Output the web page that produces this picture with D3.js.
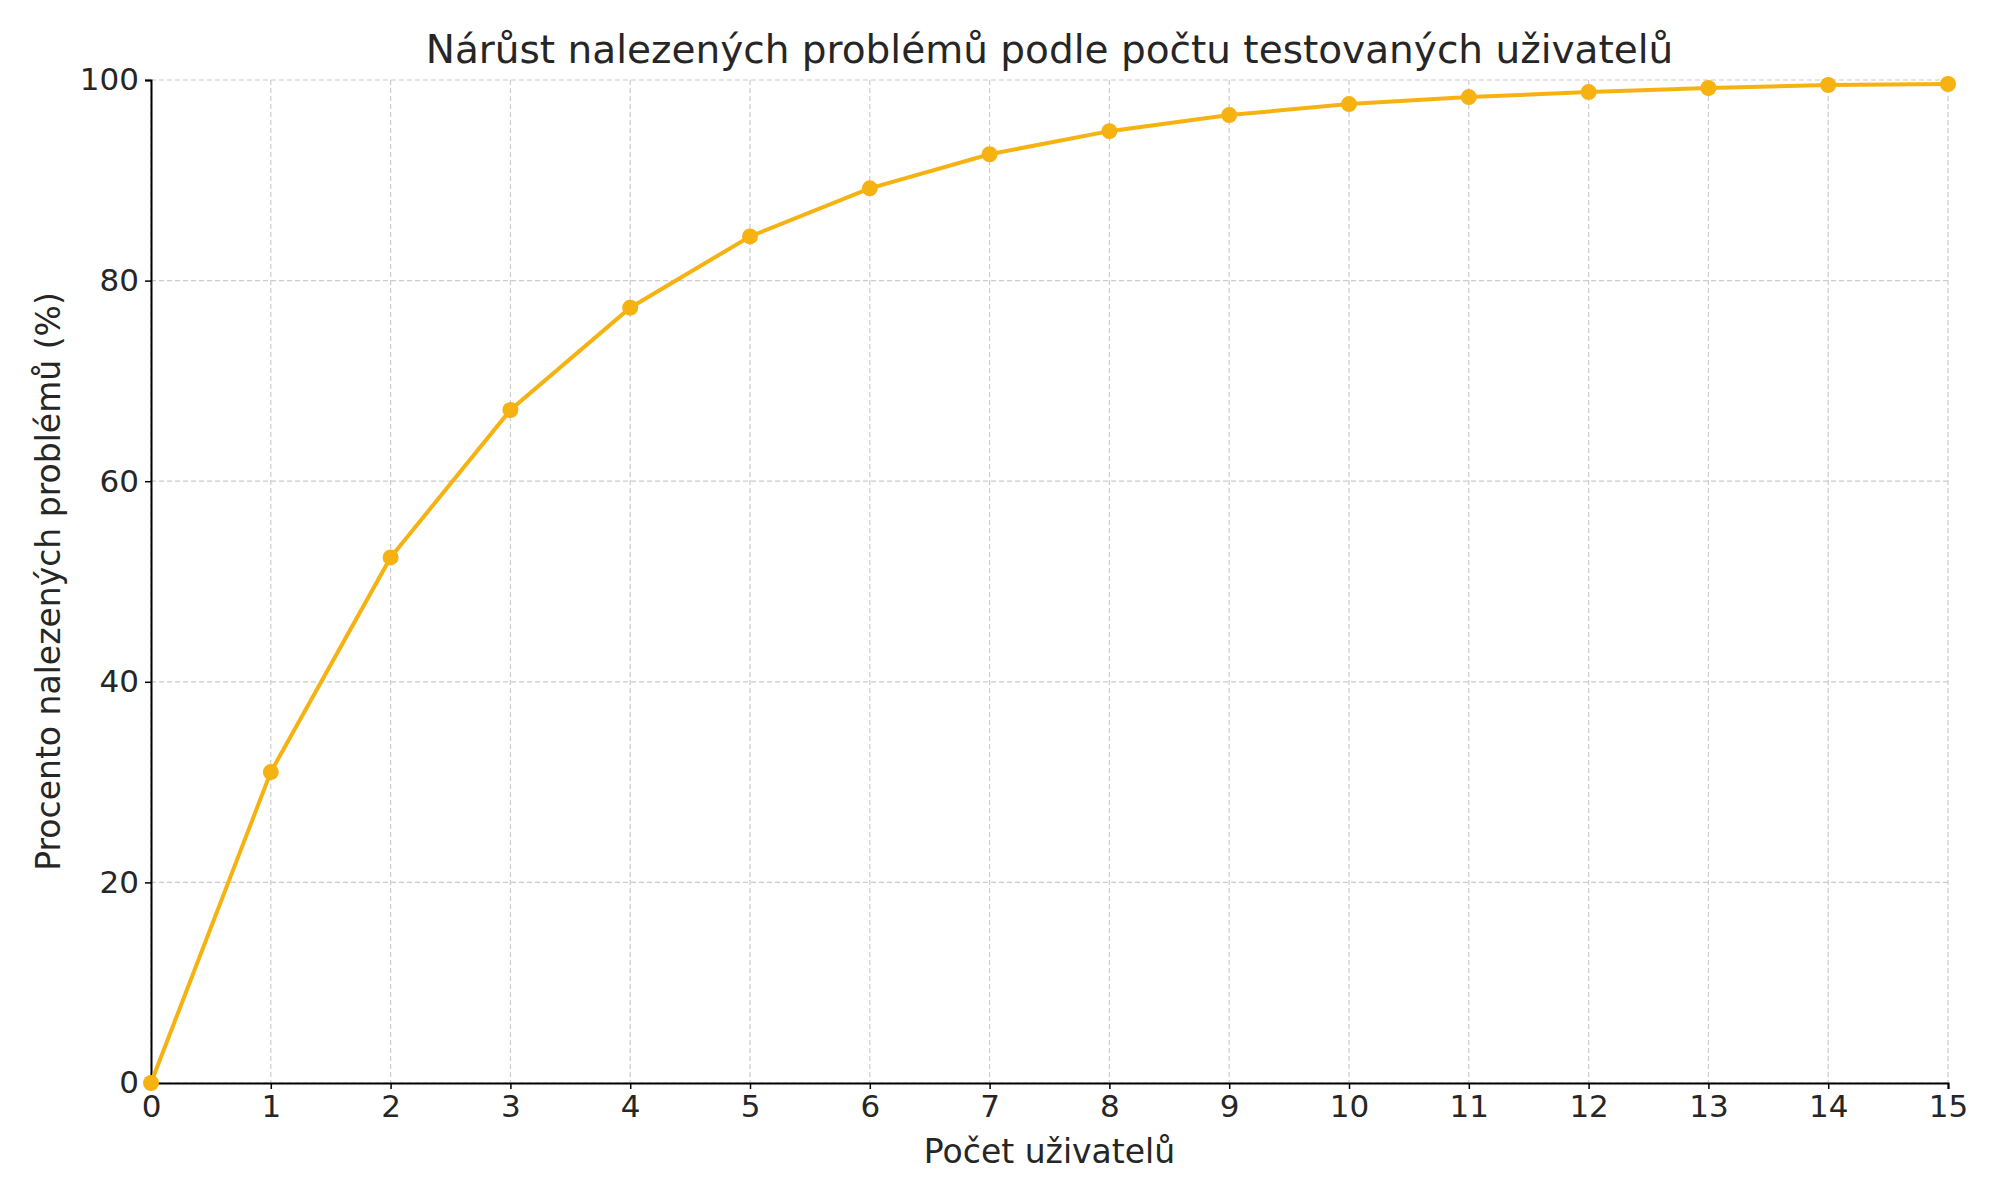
<!DOCTYPE html><html><head><meta charset="utf-8"><script src="https://cdn.jsdelivr.net/npm/d3@7"></script>
<style>body{margin:0;background:#fff}text{font-family:"DejaVu Sans",sans-serif;fill:#262626}</style></head><body>
<svg id="c" width="2000" height="1200"></svg>
<script>
const users=[0,1,2,3,4,5,6,7,8,9,10,11,12,13,14,15];
const percent=[0,31,52.4,67.1,77.3,84.4,89.2,92.6,94.9,96.5,97.6,98.3,98.8,99.2,99.5,99.6];
const xTicks=users;
const yTicks=[0,20,40,60,80,100];
const svg=d3.select("#c");
const L=151,R=1948,T=80,B=1083;
const x=d3.scaleLinear().domain([0,15]).range([L,R]);
const y=d3.scaleLinear().domain([0,100]).range([B,T]);
const g=svg.append("g");
g.selectAll(".gx").data(xTicks).join("line").attr("x1",d=>x(d)).attr("x2",d=>x(d)).attr("y1",T).attr("y2",B).attr("stroke","#ccc").attr("stroke-dasharray","5,3").attr("stroke-width",1.2);
g.selectAll(".gy").data(yTicks).join("line").attr("y1",d=>y(d)).attr("y2",d=>y(d)).attr("x1",L).attr("x2",R).attr("stroke","#ccc").attr("stroke-dasharray","5,3").attr("stroke-width",1.2);
const xa=svg.append("g").attr("transform",`translate(0,${B})`).call(d3.axisBottom(x).tickValues(xTicks).tickSize(6).tickPadding(6));
const ya=svg.append("g").attr("transform",`translate(${L},0)`).call(d3.axisLeft(y).tickValues(yTicks).tickSize(6).tickPadding(6));
[xa,ya].forEach(a=>{a.selectAll("text").style("font-size","31px").attr("fill","#262626");a.select(".domain").attr("stroke","#000").attr("stroke-width",2);a.selectAll(".tick line").attr("stroke","#000").attr("stroke-width",1.5);});
const pts=users.map((u,i)=>[u,percent[i]]);
svg.append("path").datum(pts).attr("fill","none").attr("stroke","#f5b211").attr("stroke-width",4).attr("d",d3.line().x(d=>x(d[0])).y(d=>y(d[1])));
svg.selectAll(".pt").data(pts).join("circle").attr("cx",d=>x(d[0])).attr("cy",d=>y(d[1])).attr("r",8).attr("fill","#f5b211");
svg.append("text").attr("x",(L+R)/2).attr("y",63).attr("text-anchor","middle").style("font-size","39px").text("Nárůst nalezených problémů podle počtu testovaných uživatelů");
svg.append("text").attr("x",(L+R)/2).attr("y",1163).attr("text-anchor","middle").style("font-size","33px").text("Počet uživatelů");
svg.append("text").attr("transform",`translate(60,${(T+B)/2}) rotate(-90)`).attr("text-anchor","middle").style("font-size","33px").text("Procento nalezených problémů (%)");
</script></body></html>
